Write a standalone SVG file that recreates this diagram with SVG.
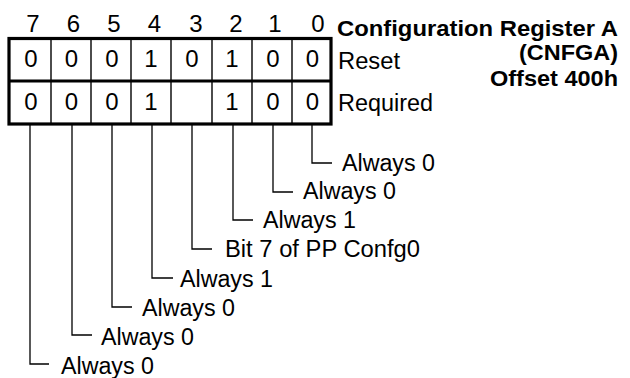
<svg xmlns="http://www.w3.org/2000/svg" width="630" height="378" viewBox="0 0 630 378">
<style>
text{font-family:"Liberation Sans",Arial,sans-serif;fill:#000}
.n{font-size:24px;text-anchor:middle}
.l{font-size:23px}
.t{font-size:22.5px;font-weight:bold}
.thick{stroke:#000;stroke-width:3.2;fill:none}
.thin{stroke:#000;stroke-width:1.4;fill:none}
.lead{stroke:#000;stroke-width:1.3;fill:none}
</style>
<rect width="630" height="378" fill="#fff"/>
<g id="title">
<text class="t" x="337" y="36" textLength="281" lengthAdjust="spacingAndGlyphs">Configuration Register A</text>
<text class="t" x="618" y="60" text-anchor="end" textLength="99" lengthAdjust="spacingAndGlyphs">(CNFGA)</text>
<text class="t" x="618" y="86" text-anchor="end" textLength="128" lengthAdjust="spacingAndGlyphs">Offset 400h</text>
</g>
<g id="bitnumbers">
<text class="n" x="33" y="32">7</text>
<text class="n" x="73.5" y="32">6</text>
<text class="n" x="114" y="32">5</text>
<text class="n" x="154.5" y="32">4</text>
<text class="n" x="196" y="32">3</text>
<text class="n" x="236" y="32">2</text>
<text class="n" x="275" y="32">1</text>
<text class="n" x="318" y="32">0</text>
</g>
<g id="register">
<line class="thin" x1="51" y1="38" x2="51" y2="124"/>
<line class="thin" x1="91" y1="38" x2="91" y2="124"/>
<line class="thin" x1="131" y1="38" x2="131" y2="124"/>
<line class="thin" x1="171" y1="38" x2="171" y2="124"/>
<line class="thin" x1="212" y1="38" x2="212" y2="124"/>
<line class="thin" x1="252" y1="38" x2="252" y2="124"/>
<line class="thin" x1="292" y1="38" x2="292" y2="124"/>
<rect class="thick" x="9" y="38.5" width="322" height="85.5"/>
<line class="thick" x1="9" y1="81" x2="331" y2="81"/>
</g>
<g id="row-reset">
<text class="n" x="31" y="67">0</text>
<text class="n" x="71.5" y="67">0</text>
<text class="n" x="112" y="67">0</text>
<text class="n" x="151" y="67">1</text>
<text class="n" x="192" y="67">0</text>
<text class="n" x="232" y="67">1</text>
<text class="n" x="273" y="67">0</text>
<text class="n" x="312.5" y="67">0</text>
<text class="l" x="338" y="69" textLength="62" lengthAdjust="spacingAndGlyphs">Reset</text>
</g>
<g id="row-required">
<text class="n" x="31" y="110">0</text>
<text class="n" x="71.5" y="110">0</text>
<text class="n" x="112" y="110">0</text>
<text class="n" x="151" y="110">1</text>
<text class="n" x="232" y="110">1</text>
<text class="n" x="273" y="110">0</text>
<text class="n" x="312.5" y="110">0</text>
<text class="l" x="338" y="111" textLength="95" lengthAdjust="spacingAndGlyphs">Required</text>
</g>
<g id="connectors">
<polyline class="lead" points="312,124 312,163 332,163"/>
<polyline class="lead" points="273,124 273,192 293,192"/>
<polyline class="lead" points="233,124 233,220 253,220"/>
<polyline class="lead" points="192,124 192,249 212,249"/>
<polyline class="lead" points="152,124 152,278 173,278"/>
<polyline class="lead" points="112,124 112,307 132,307"/>
<polyline class="lead" points="72,124 72,335 92,335"/>
<polyline class="lead" points="30,124 30,364 49,364"/>
</g>
<g id="labels">
<text id="bit0" class="l" x="342" y="171" textLength="93" lengthAdjust="spacingAndGlyphs">Always 0</text>
<text id="bit1" class="l" x="303" y="199" textLength="93" lengthAdjust="spacingAndGlyphs">Always 0</text>
<text id="bit2" class="l" x="263" y="228" textLength="93" lengthAdjust="spacingAndGlyphs">Always 1</text>
<text id="bit3" class="l" x="225" y="257" textLength="195" lengthAdjust="spacingAndGlyphs">Bit 7 of PP Confg0</text>
<text id="bit4" class="l" x="180" y="287" textLength="93" lengthAdjust="spacingAndGlyphs">Always 1</text>
<text id="bit5" class="l" x="142" y="316" textLength="93" lengthAdjust="spacingAndGlyphs">Always 0</text>
<text id="bit6" class="l" x="101" y="345" textLength="93" lengthAdjust="spacingAndGlyphs">Always 0</text>
<text id="bit7" class="l" x="61" y="374" textLength="93" lengthAdjust="spacingAndGlyphs">Always 0</text>
</g>
</svg>
